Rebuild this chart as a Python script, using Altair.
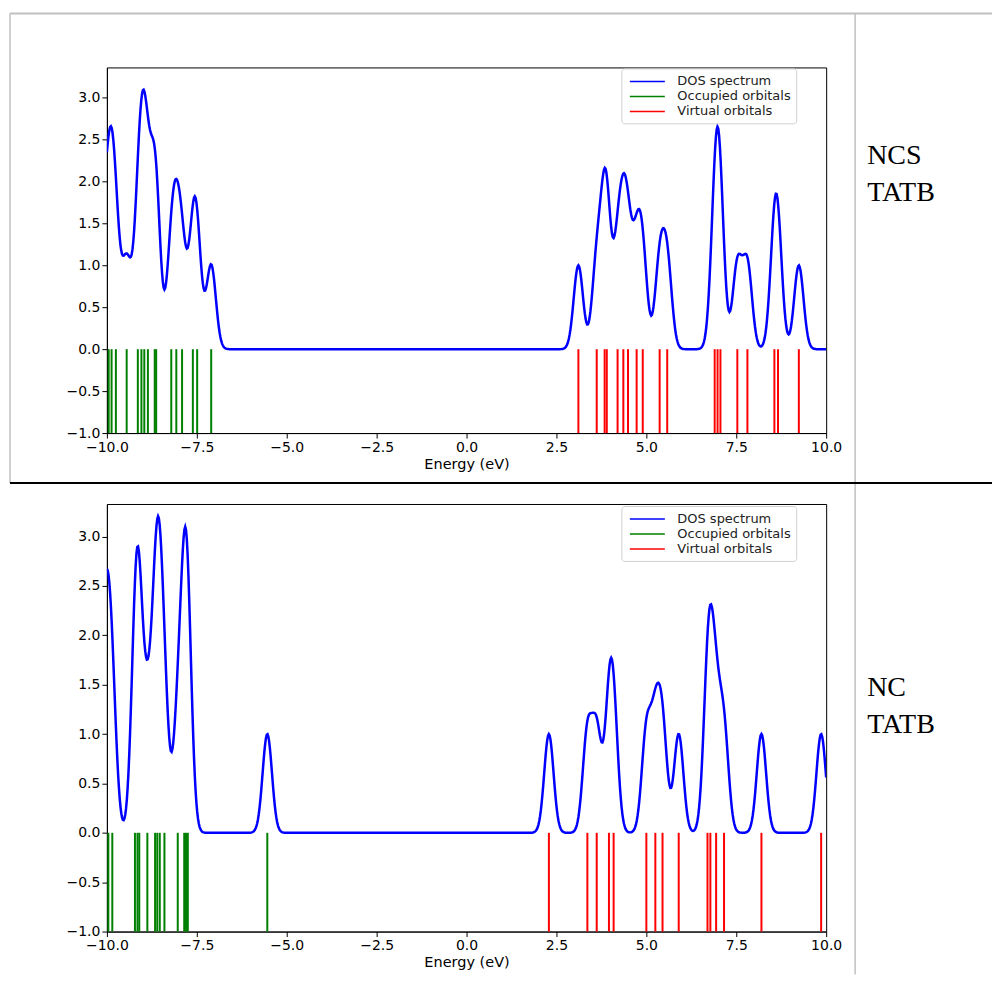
import altair as alt
import pandas as pd

# ---- data ----
ncs_occupied = [-10.12, -9.95, -9.87, -9.75, -9.45, -9.14, -9.04, -8.96, -8.86,
                -8.67, -8.63, -8.21, -8.07, -7.91, -7.61, -7.49, -7.10]
ncs_virtual = [3.11, 3.62, 3.84, 3.90, 4.20, 4.36, 4.49, 4.73, 4.90, 5.37, 5.58,
               6.90, 6.98, 7.06, 7.53, 7.81, 8.56, 8.66, 9.24]
nc_occupied = [-10.2, -10.06, -9.96, -9.85, -9.22, -9.15, -9.10, -8.875, -8.66,
               -8.60, -8.53, -8.40, -8.03, -7.85, -7.80, -7.75, -5.54]
nc_virtual = [2.29, 3.36, 3.62, 3.96, 4.09, 5.00, 5.25, 5.45, 5.90, 6.70, 6.78,
              6.94, 7.16, 8.20, 9.86]
ncs_label = ["NCS", "TATB"]
nc_label = ["NC", "TATB"]
broadening = 0.13  # gaussian width (eV) of the DOS spectrum
series_names = ["DOS spectrum", "Occupied orbitals", "Virtual orbitals"]
series_colors = ["#0000ff", "#008000", "#ff0000"]
x_ticks = [-10, -7.5, -5, -2.5, 0, 2.5, 5, 7.5, 10]
y_ticks = [-1, -0.5, 0, 0.5, 1, 1.5, 2, 2.5, 3]

FONT = "DejaVu Sans"
BORDER = "#c0c0c0"


def panel(occ, vir, ymax, height, label_lines, label_y, legend_y, borders):
    orb = pd.DataFrame({
        "energy": occ + vir,
        "kind": [series_names[1]] * len(occ) + [series_names[2]] * len(vir),
    })
    xs = alt.Scale(domain=[-10, 10], nice=False, zero=False)
    ys = alt.Scale(domain=[-1, ymax], nice=False, zero=False)
    xaxis = alt.Axis(values=x_ticks, format=".1f", title="Energy (eV)", grid=False,
                     labelFont=FONT, labelFontSize=14, titleFont=FONT, titleFontSize=14.5,
                     titleFontWeight="normal", titleColor="black", labelColor="black",
                     domainColor="black", tickColor="black", tickSize=5, titlePadding=3,
                     labelFlush=False)
    yaxis = alt.Axis(values=y_ticks, format=".1f", title=None, grid=False,
                     labelFont=FONT, labelFontSize=14, labelColor="black",
                     domainColor="black", tickColor="black", tickSize=5)
    color = alt.Color(
        "kind:N",
        scale=alt.Scale(domain=series_names, range=series_colors),
        legend=alt.Legend(title=None, orient="none", legendX=515, legendY=legend_y,
                          symbolType="M-2.5,0L2.5,0", symbolStrokeWidth=1.5, symbolSize=196,
                          symbolOffset=13, labelFont=FONT, labelFontSize=13,
                          labelColor="#222222", strokeColor="#d0d0d0", fillColor="white",
                          cornerRadius=3, padding=5, rowPadding=0, labelOffset=22),
    )
    base = alt.Chart(orb)
    dos = base.transform_density(
        "energy", bandwidth=broadening, extent=[-10, 10], steps=900, counts=True,
        as_=["energy", "density"],
    ).transform_calculate(
        dos=f"datum.density * {broadening} * sqrt(2 * PI)",
        kind=f"'{series_names[0]}'",
    ).mark_line(strokeWidth=2.5, clip=True).encode(
        x=alt.X("energy:Q", scale=xs, axis=xaxis),
        y=alt.Y("dos:Q", scale=ys, axis=yaxis),
        color=color,
    )
    rules = base.transform_filter(
        "datum.energy >= -10 && datum.energy <= 10"
    ).mark_rule(strokeWidth=2).encode(
        x=alt.X("energy:Q", scale=xs),
        y=alt.datum(-1),
        y2=alt.datum(0),
        color=color,
    )
    one = alt.Data(values=[{"a": 1}])
    label = alt.Chart(one).mark_text(
        align="left", baseline="alphabetic", font="Liberation Serif", fontSize=28,
        lineBreak="\n", lineHeight=37, color="black",
    ).encode(x=alt.value(761), y=alt.value(label_y), text=alt.value("\n".join(label_lines)))
    layers = [dos, rules, label]
    for (x1, x2, y1, y2, col, w) in borders:
        layers.append(
            alt.Chart(one).mark_rule(color=col, strokeWidth=w).encode(
                x=alt.value(x1), x2=alt.value(x2), y=alt.value(y1), y2=alt.value(y2)
            )
        )
    return alt.layer(*layers).properties(width=720, height=height)


top_borders = [
    (-97, 886, -58, -58, "white", 1),      # page anchor
    (-97, 886, -54, -54, BORDER, 2),       # table top
    (-97, -97, -54, 416, BORDER, 1.5),     # table left
    (749, 749, -54, 908, BORDER, 1.5),     # column divider
    (-97, 886, 416, 416, "black", 2),      # row divider
]

top = panel(ncs_occupied, ncs_virtual, 3.36, 366, ncs_label, 97, 1, top_borders)
bottom = panel(nc_occupied, nc_virtual, 3.33, 428, nc_label, 192, 2, [])

chart = alt.vconcat(top, bottom, spacing=71, bounds="flush").resolve_scale(
    color="independent"
).properties(padding=0).configure_view(stroke="black", strokeWidth=1)

chart.save("out.html", embed_options={"renderer": "svg", "actions": False})
